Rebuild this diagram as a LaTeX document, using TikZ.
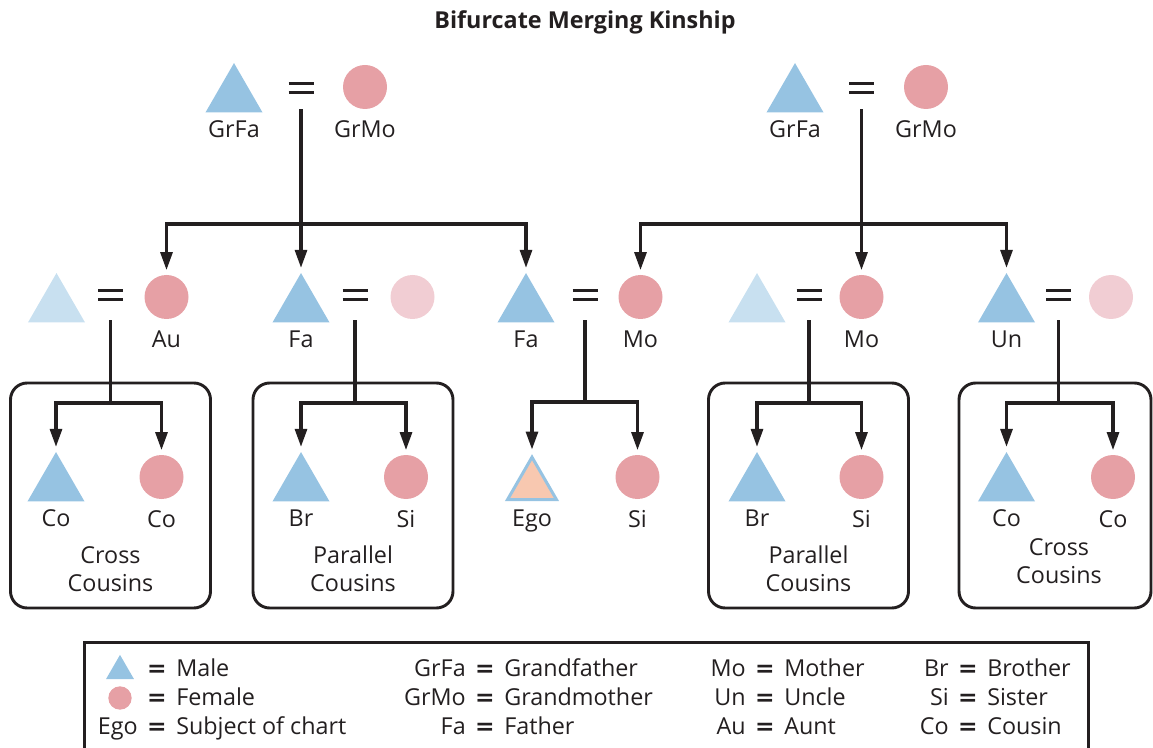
\documentclass[tikz,border=0pt]{standalone}
\usepackage{fontspec}
\setmainfont{Open Sans}
\newfontfamily\eqfont{DejaVu Sans}
\usetikzlibrary{arrows.meta,positioning,shapes.geometric}
\definecolor{kInk}{RGB}{35,31,32}
\definecolor{kMale}{RGB}{150,195,226}
\definecolor{kMaleFaint}{RGB}{200,224,240}
\definecolor{kFemale}{RGB}{230,160,165}
\definecolor{kFemaleFaint}{RGB}{241,205,211}
\definecolor{kEgo}{RGB}{248,200,176}
\newcommand{\marriagebars}{\vbox{\hrule width 18.75pt height 2.5pt\vskip 4.4pt\hrule width 18.75pt height 2.5pt}}
\tikzset{
	male/.style={regular polygon, regular polygon sides=3, minimum size=49.4pt, inner sep=0pt, fill=kMale},
	malefaint/.style={male, fill=kMaleFaint},
	female/.style={circle, minimum size=33pt, inner sep=0pt, fill=kFemale},
	femalefaint/.style={female, fill=kFemaleFaint},
	ego/.style={male, minimum size=42.3pt, fill=kEgo, draw=kMale, line width=2.25pt},
	marry/.style={inner sep=0pt, text=kInk},
	lbl/.style={inner sep=0pt, text=kInk, text height=12.6pt, text depth=0pt},
	cousintxt/.style={inner sep=0pt, text=kInk, align=center},
	descent/.style={draw=kInk, line width=2.3pt},
	kidarrow/.style={descent, -{Triangle[length=13.5pt,width=9pt]}, shorten >=3.5pt},
	cousinbox/.style={draw=kInk, line width=2.2pt, rounded corners=12.5pt, minimum width=150pt, minimum height=168.75pt}
}
\begin{document}
\begin{tikzpicture}[x=0.75pt, y=-0.75pt, font=\fontsize{17.5}{21}\selectfont]
	\useasboundingbox (0,0) rectangle (1153,748);
	\node[text=kInk, font=\fontsize{17.5}{21}\selectfont\bfseries] (title) at (585,22) {Bifurcate Merging Kinship};

	% grandparents
	\node[male] (gfA) at (234,96) {};
	\node[marry] (mrA) at (301,88) {\marriagebars};
	\node[female] (gmA) at (365,87) {};
	\node[lbl, below=6pt of gfA] (gfAl) {GrFa};
	\node[lbl, below=8.5pt of gmA] (gmAl) {GrMo};
	\node[male] (gfB) at (795,96) {};
	\node[marry] (mrB) at (861.5,88) {\marriagebars};
	\node[female] (gmB) at (926,87) {};
	\node[lbl, below=6pt of gfB] (gfBl) {GrFa};
	\node[lbl, below=8.5pt of gmB] (gmBl) {GrMo};

	% parents' generation
	\node[malefaint] (uh1) at (56.5,306) {};
	\node[marry] (mr1) at (110.5,295) {\marriagebars};
	\node[female] (au1) at (166.5,297) {};
	\node[lbl, below=8.5pt of au1] (au1l) {Au};
	\node[male] (fa2) at (301,306) {};
	\node[marry] (mr2) at (355,295) {\marriagebars};
	\node[femalefaint] (fw2) at (412.5,297) {};
	\node[lbl, below=6pt of fa2] (fa2l) {Fa};
	\node[male] (fa3) at (526,306) {};
	\node[marry] (mr3) at (585,295) {\marriagebars};
	\node[female] (mo3) at (640.5,297) {};
	\node[lbl, below=6pt of fa3] (fa3l) {Fa};
	\node[lbl, below=8.5pt of mo3] (mo3l) {Mo};
	\node[malefaint] (mh4) at (757,306) {};
	\node[marry] (mr4) at (809,295) {\marriagebars};
	\node[female] (mo4) at (861.5,297) {};
	\node[lbl, below=8.5pt of mo4] (mo4l) {Mo};
	\node[male] (un5) at (1006.5,306) {};
	\node[marry] (mr5) at (1058.5,295) {\marriagebars};
	\node[femalefaint] (uw5) at (1111,297) {};
	\node[lbl, below=6pt of un5] (un5l) {Un};

	% cousin boxes
	\node[cousinbox] (box1) at (110.5,495.5) {};
	\node[cousinbox] (box2) at (353,495.5) {};
	\node[cousinbox] (box4) at (808.5,495.5) {};
	\node[cousinbox, minimum width=144pt] (box5) at (1055,495.5) {};
	\node[cousintxt] (box1t) at (110.5,569) {Cross\\Cousins};
	\node[cousintxt] (box2t) at (353,569) {Parallel\\Cousins};
	\node[cousintxt] (box4t) at (808.5,569) {Parallel\\Cousins};
	\node[cousintxt] (box5t) at (1059,561.5) {Cross\\Cousins};

	% ego's generation
	\node[male] (co1m) at (56,485) {};
	\node[female] (co1f) at (161.5,477) {};
	\node[male] (br2) at (301,485) {};
	\node[female] (si2) at (406,477) {};
	\node[ego] (ego) at (532,485.4) {};
	\node[female] (si3) at (637.5,477) {};
	\node[male] (br4) at (757,485) {};
	\node[female] (si4) at (861.5,477) {};
	\node[male] (co5m) at (1006.5,485) {};
	\node[female] (co5f) at (1113,477) {};
	\node[lbl, below=6pt of co1m] (co1ml) {Co};
	\node[lbl, below=8.5pt of co1f] (co1fl) {Co};
	\node[lbl, below=6pt of br2] (br2l) {Br};
	\node[lbl, below=8.5pt of si2] (si2l) {Si};
	\node[lbl, below=6pt of ego] (egol) {Ego};
	\node[lbl, below=8.5pt of si3] (si3l) {Si};
	\node[lbl, below=6pt of br4] (br4l) {Br};
	\node[lbl, below=8.5pt of si4] (si4l) {Si};
	\node[lbl, below=6pt of co5m] (co5ml) {Co};
	\node[lbl, below=8.5pt of co5f] (co5fl) {Co};

	% descent lines
	\coordinate (jA) at (301,224);
	\coordinate (jB) at (861.5,224);
	\draw[descent, shorten <=11pt] (mrA) -- (jA);
	\draw[kidarrow] (jA) -- (fa2);
	\draw[kidarrow] (jA) -| (au1);
	\draw[kidarrow] (jA) -| (fa3);
	\draw[descent, shorten <=11pt] (mrB) -- (jB);
	\draw[kidarrow] (jB) -- (mo4);
	\draw[kidarrow] (jB) -| (mo3);
	\draw[kidarrow] (jB) -| (un5);

	\coordinate (j1) at (110.5,403);
	\coordinate (j2) at (355,403);
	\coordinate (j3) at (585,402);
	\coordinate (j4) at (809,403);
	\coordinate (j5) at (1058.5,403);
	\draw[descent, shorten <=14pt] (mr1) -- (j1);
	\draw[kidarrow] (j1) -| (co1m);
	\draw[kidarrow] (j1) -| (co1f);
	\draw[descent, shorten <=14pt] (mr2) -- (j2);
	\draw[kidarrow] (j2) -| (br2);
	\draw[kidarrow] (j2) -| (si2);
	\draw[descent, shorten <=14pt] (mr3) -- (j3);
	\draw[kidarrow] (j3) -| (ego);
	\draw[kidarrow] (j3) -| (si3);
	\draw[descent, shorten <=14pt] (mr4) -- (j4);
	\draw[kidarrow] (j4) -| (br4);
	\draw[kidarrow] (j4) -| (si4);
	\draw[descent, shorten <=14pt] (mr5) -- (j5);
	\draw[kidarrow] (j5) -| (co5m);
	\draw[kidarrow] (j5) -| (co5f);

	% key
	\node[draw=kInk, line width=2.2pt, minimum width=753pt, minimum height=100pt, anchor=north west] (legend) at (83,641) {};
	\node[male, minimum size=24.2pt] (lgm) at (120,671) {};
	\node[female, minimum size=17.5pt] (lgf) at (120,698) {};
	\node[lbl] (lgeqm) at (157,668.5) {\eqfont\bfseries =};
	\node[lbl, anchor=west] (lgdm) at (176,668.5) {Male};
	\node[lbl] (lgeqf) at (157,697.5) {\eqfont\bfseries =};
	\node[lbl, anchor=west] (lgdf) at (176,697.5) {Female};
	\foreach \ab/\df/\ex/\ey [count=\i] in {Ego/Subject of chart/157/726.5,
		GrFa/Grandfather/485/668.5, GrMo/Grandmother/485/697.5, Fa/Father/485/726.5,
		Mo/Mother/765/668.5, Un/Uncle/765/697.5, Au/Aunt/765/726.5,
		Br/Brother/968/668.5, Si/Sister/968/697.5, Co/Cousin/968/726.5}{
		\node[lbl, anchor=east] (lgab\i) at (\ex-19,\ey) {\ab};
		\node[lbl] (lgeq\i) at (\ex,\ey) {\eqfont\bfseries =};
		\node[lbl, anchor=west] (lgdf\i) at (\ex+19,\ey) {\df};
	}
\end{tikzpicture}
\end{document}
